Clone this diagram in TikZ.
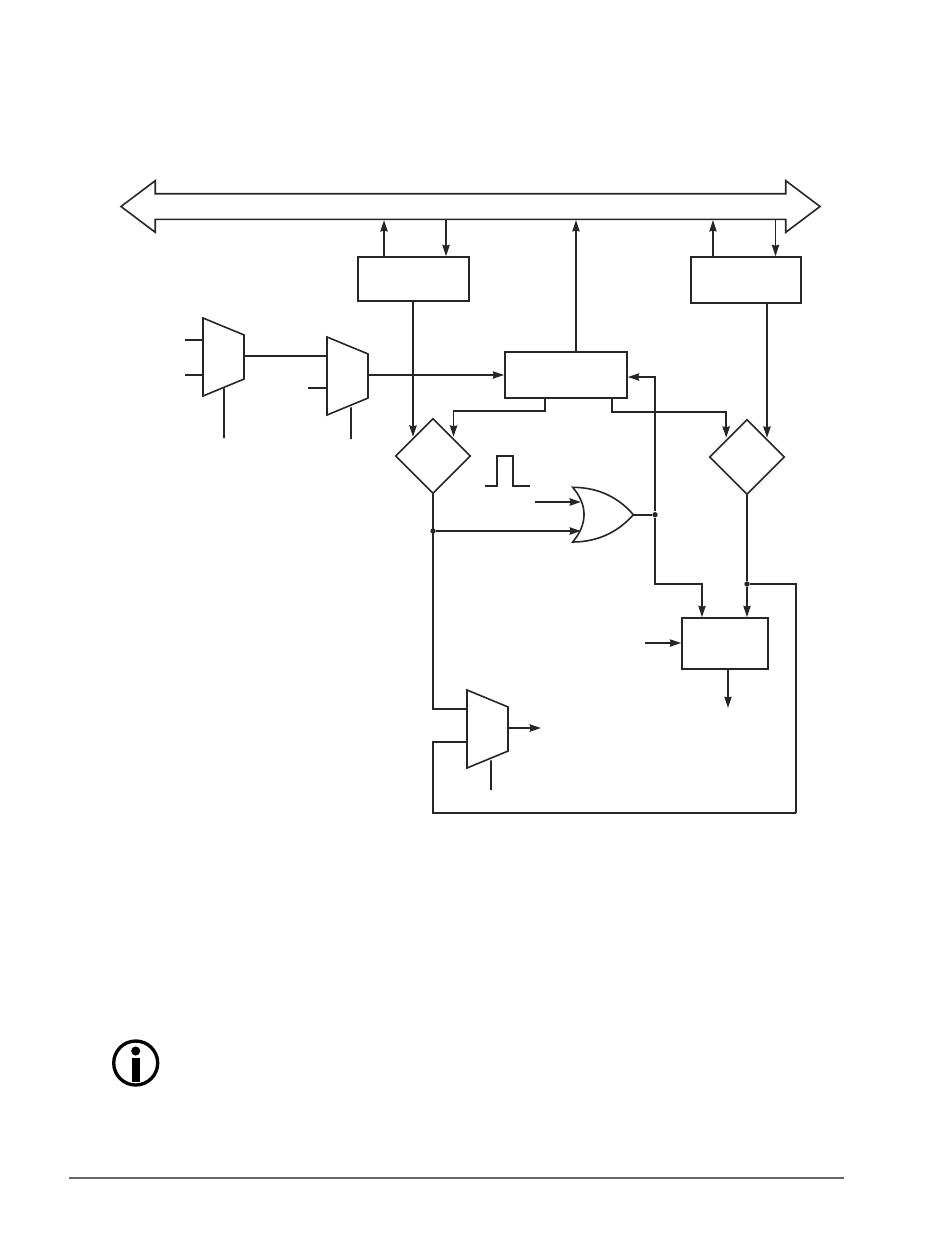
\documentclass[tikz,border=0pt]{standalone}
\usepackage{tikz}
\usetikzlibrary{arrows.meta,positioning,calc,shapes.geometric,shapes.arrows}

\begin{document}
\begin{tikzpicture}[
  x=0.75pt, y=-0.75pt,
  line width=1.2pt, color=black!85,
  box/.style={draw, rectangle, inner sep=0pt},
  test/.style={draw, diamond, aspect=1, inner sep=0pt, minimum size=56.5pt},
  muxer/.style={draw, trapezium, shape border rotate=270, inner sep=0pt,
    trapezium left angle=69, trapezium right angle=69, text width=2pt, text height=2pt,
    minimum width=58.5pt, minimum height=30.75pt, trapezium stretches=true},
  joint/.style={circle, fill, inner sep=0pt, minimum size=4pt},
  arr/.style={-{Stealth[length=8.5pt, width=5.5pt, inset=0.6pt]}},
  fine/.style={line width=0.85pt}]
\useasboundingbox (0,0) rectangle (950,1246);
% bus
\node[draw, double arrow, inner xsep=0pt, inner ysep=9pt, minimum height=524.25pt, minimum width=37.5pt,
  double arrow head extend=9.75pt, double arrow head indent=0pt, double arrow tip angle=74]
  (bus) at (470.5,206.5) {};
% boxes and compare blocks
\node[box, minimum width=83.25pt, minimum height=33pt] (boxA) at (413.5,279) {};
\node[box, minimum width=82.5pt, minimum height=34.5pt] (boxB) at (746,280) {};
\node[box, minimum width=91.5pt, minimum height=34.5pt] (boxC) at (566,375) {};
\node[box, minimum width=64.5pt, minimum height=38.25pt] (boxL) at (725,643.5) {};
\node[test] (dL) at (433,456) {};
\node[test] (dR) at (747,457) {};
% multiplexers
\node[muxer] (M1) at (223.5,357) {};
\node[muxer] (M2) at (347.5,376) {};
\node[muxer] (M3) at (487.5,729) {};
% or gate
\coordinate (orTop) at (572.7,487.3);
\coordinate (orBot) at (572.7,542);
\coordinate (orOut) at (633.3,514.7);
\coordinate (orIn1) at (581,502);
\coordinate (orIn2) at (581,531);
\draw (orTop) .. controls (600,487.3) and (620,499) .. (orOut)
  .. controls (620,530) and (600,542) .. (orBot)
  .. controls (587.8,524) and (587.8,505) .. cycle;
% free ends
\coordinate (in1a) at (185,340);
\coordinate (in1b) at (185,375);
\coordinate (in2b) at (308,388);
\coordinate (sel1) at (224,438);
\coordinate (sel2) at (351,439);
\coordinate (sel3) at (491,790);
\coordinate (orFree) at (535,502);
\coordinate (lIn) at (645,643);
\coordinate (lOut) at (728,708);
\coordinate (m3Out) at (541,728);
\coordinate (loopSW) at (433,813);
\coordinate (loopSE) at (796,813);
\node[joint] (dotA) at (433,531) {};
\node[joint] (dotB) at (655,514.7) {};
\node[joint] (dotC) at (747,584) {};
% to and from the bus
\draw[arr] ([xshift=-22.1pt]boxA.north) -- ([xshift=-22.1pt]boxA.north |- bus.south);
\draw[arr] ([xshift=24.4pt]boxA.north |- bus.south) -- ([xshift=24.4pt]boxA.north);
\draw[arr] ([xshift=7.5pt]boxC.north) -- ([xshift=7.5pt]boxC.north |- bus.south);
\draw[arr, fine] ([xshift=-24.75pt]boxB.north) -- ([xshift=-24.75pt]boxB.north |- bus.south);
\draw[arr, fine] ([xshift=22.1pt]boxB.north |- bus.south) -- ([xshift=22.1pt]boxB.north);
% multiplexer inputs
\draw (in1a) -- (in1a -| M1.west);
\draw (in1b) -- (in1b -| M1.west);
\draw (in2b) -- (in2b -| M2.west);
\draw ([xshift=0.4pt]M1.south) -- (sel1);
\draw ([xshift=2.6pt]M2.south) -- (sel2);
\draw ([xshift=2.6pt]M3.south) -- (sel3);
\draw ([yshift=0.75pt]M1.east) -- ([yshift=0.75pt]M1.east -| M2.west);
\draw[arr] ([yshift=0.75pt]M2.east) -- (boxC.west);
% into the compare blocks
\draw[arr] ([xshift=-0.375pt]boxA.south) -- ([xshift=-0.375pt]boxA.south |- dL.north west);
\draw[arr] ([xshift=15.75pt]boxB.south) -- ([xshift=15.75pt]boxB.south |- dR.north east);
\draw[arr] ([xshift=-15.75pt]boxC.south) -- ++(0,12) -| ([xshift=1pt]dL.north east);
\draw[arr] ([xshift=34.5pt]boxC.south) -- ++(0,13) -| ([xshift=-1.2pt]dR.north west);
% pulse
\coordinate (pulseA) at (484.5,486);
\coordinate (pulseB) at (530,486);
\draw (pulseA) -- (497,486) -- (497,456) -- (513,456) -- (513,486) -- (pulseB);
% or gate connections
\draw[arr] (orFree) -- (orIn1);
\draw[arr] (dotA) -- (orIn2);
\draw (orOut) -- (dotB);
\draw[arr] (dotB) |- ([yshift=-1.5pt]boxC.east);
\draw[arr] (dotB) -- (dotB |- dotC) -| ([xshift=-17.25pt]boxL.north);
% lower right block
\draw[fine] (dR.south) -- (dotC);
\draw[arr] (dotC) -- ([xshift=16.5pt]boxL.north);
\draw[arr] (lIn) -- (lIn -| boxL.west);
\draw[arr, fine] ([xshift=2.25pt]boxL.south) -- (lOut);
% feedback
\draw (dL.south) |- ([yshift=15pt]M3.west);
\draw ([yshift=-9.75pt]M3.west) -| (loopSW) -- (loopSE);
\draw[fine] (loopSE) |- (dotC);
\draw[arr] ([yshift=0.75pt]M3.east) -- (m3Out);
% note icon
\node[draw=black, circle, line width=2.5pt, inner sep=0pt, minimum size=33pt] (note) at (135.7,1063) {};
\node[circle, fill=black, inner sep=0pt, minimum size=6.8pt] (noteDot) at (135.7,1051) {};
\node[rectangle, fill=black, inner sep=0pt, minimum width=6.2pt, minimum height=18pt] (noteBar) at (135.7,1070) {};
% page rule
\coordinate (ruleA) at (69,1178);
\coordinate (ruleB) at (844,1178);
\draw[black!60, line width=0.9pt] (ruleA) -- (ruleB);
\end{tikzpicture}
\end{document}
